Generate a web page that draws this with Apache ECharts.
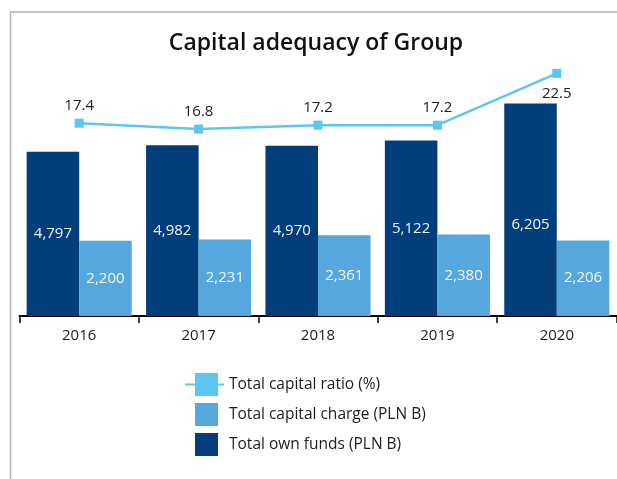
<!DOCTYPE html>
<html>
<head>
<meta charset="utf-8">
<script src="https://cdn.jsdelivr.net/npm/echarts@6/dist/echarts.min.js"></script>
<style>
html,body{margin:0;padding:0;background:#fff;}
#chart{width:617px;height:479px;}
</style>
</head>
<body>
<div id="chart"></div>
<script>
var categories = ['2016', '2017', '2018', '2019', '2020'];
var ownFunds = [4797, 4982, 4970, 5122, 6205];
var capitalCharge = [2200, 2231, 2361, 2380, 2206];
var capitalRatio = [17.4, 16.8, 17.2, 17.2, 22.5];
var seriesNames = ['Total capital ratio (%)', 'Total capital charge (PLN B)', 'Total own funds (PLN B)'];
var titleText = 'Capital adequacy of Group';

var FONT = 'Open Sans';
var DARK = '#023d7c';
var LIGHT = '#56a7dd';
var LINE = '#5cc6f2';
var TXT = '#1c1c1c';

function fmt(v) { return Number(v).toLocaleString('en-US'); }

var chart = echarts.init(document.getElementById('chart'), null, {renderer: 'canvas'});
var speck = 'M0,0H0.01V0.01H0Z M38.99,0H39V0.01H38.99Z ';
var option = {
  animation: false,
  textStyle: {fontFamily: FONT},
  graphic: [{
    type: 'rect', silent: true, z: -10,
    shape: {x: 10.5, y: 12, width: 1000, height: 1000},
    style: {fill: 'none', stroke: '#b3b3b3', lineWidth: 1.5}
  }],
  title: {
    text: titleText, left: 316, top: 32, padding: 0, textAlign: 'center',
    textStyle: {fontFamily: FONT, fontSize: 23, fontWeight: 600, color: '#111'}
  },
  legend: {
    orient: 'vertical', left: 185, top: 373, padding: 0,
    itemWidth: 39, itemHeight: 23, itemGap: 7,
    textStyle: {fontFamily: FONT, fontSize: 15.5, color: TXT},
    data: [
      {name: seriesNames[0], icon: 'path://M0,10.5H39V12.5H0Z M10,0H33V23H10Z'},
      {name: seriesNames[1], icon: 'path://' + speck + 'M10,0H33V23H10Z'},
      {name: seriesNames[2], icon: 'path://' + speck + 'M10,0H33V23H10Z'}
    ]
  },
  grid: {left: 19.5, right: 0.5, top: 42, bottom: 163, containLabel: false},
  xAxis: {
    type: 'category', data: categories,
    axisLine: {lineStyle: {color: '#000', width: 2}},
    axisTick: {show: true, length: 7, lineStyle: {color: '#000', width: 1.5}},
    axisLabel: {margin: 12, fontSize: 15, color: TXT, fontFamily: FONT}
  },
  yAxis: [
    {type: 'value', min: 0, max: 8000, show: false, splitLine: {show: false}},
    {type: 'value', min: -2.3, max: 25.7, show: false, splitLine: {show: false}}
  ],
  series: [
    {
      name: seriesNames[2], type: 'bar', data: ownFunds.map(function (v, i) {
        return i === ownFunds.length - 1 ? {value: v, label: {offset: [0, 15]}} : v;
      }),
      barGap: '0%', barCategoryGap: '12%',
      itemStyle: {color: DARK},
      label: {show: true, position: 'inside', color: '#eef3f8', fontSize: 15, fontFamily: FONT,
        formatter: function (p) { return fmt(p.value); }}
    },
    {
      name: seriesNames[1], type: 'bar', data: capitalCharge,
      barGap: '0%', barCategoryGap: '12%',
      itemStyle: {color: LIGHT},
      label: {show: true, position: 'inside', color: '#f4f8fc', fontSize: 15, fontFamily: FONT,
        formatter: function (p) { return fmt(p.value); }}
    },
    {
      name: seriesNames[0], type: 'line', yAxisIndex: 1, z: 5, clip: false,
      data: capitalRatio.map(function (v, i) {
        return i === capitalRatio.length - 1 ? {value: v, label: {position: 'bottom', distance: 8}} : v;
      }),
      symbol: 'rect', symbolSize: 9,
      lineStyle: {color: LINE, width: 2.5},
      itemStyle: {color: LINE},
      label: {show: true, position: 'top', distance: 5, color: TXT, fontSize: 15, fontFamily: FONT,
        formatter: function (p) { return p.value.toFixed(1); }}
    }
  ]
};
chart.setOption(option);
</script>
</body>
</html>
